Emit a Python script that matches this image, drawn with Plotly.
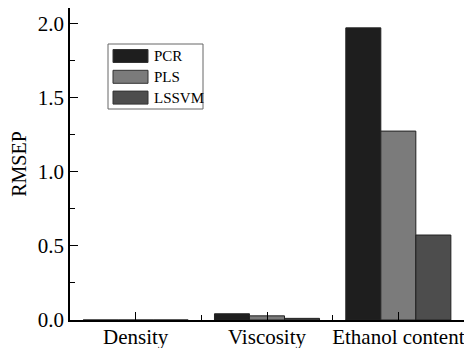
import plotly.graph_objects as go

categories = ["Density", "Viscosity", "Ethanol content"]
series_names = ["PCR", "PLS", "LSSVM"]
pcr = [0.0, 0.042, 1.97]
pls = [0.0, 0.028, 1.274]
lssvm = [0.0, 0.011, 0.573]
colors = ["#1e1e1e", "#7b7b7b", "#4d4d4d"]
y_ticks = [0.0, 0.5, 1.0, 1.5, 2.0]

x_pos = list(range(len(categories)))
FONT = "Liberation Serif"

# figure geometry (figure div sits 8px in from the page corner)
W, H = 464, 340
ML, MR, MT, MB = 62, 8, 0, 28
PW, PH = W - ML - MR, H - MT - MB


def px(x):  # figure-pixel x -> paper
    return (x - ML) / PW


def py(y):  # figure-pixel y -> paper
    return (MT + PH - y) / PH


fig = go.Figure()
for name, vals, col in zip(series_names, [pcr, pls, lssvm], colors):
    fig.add_trace(go.Bar(
        x=x_pos, y=vals, name=name, showlegend=False,
        marker=dict(color=col, line=dict(color="#222222", width=1)),
    ))

# legend drawn as a framed box, swatches and labels (positions in figure px)
shapes = [dict(type="rect", xref="paper", yref="paper",
               x0=px(100), x1=px(195), y0=py(101), y1=py(36),
               line=dict(color="#666666", width=1), fillcolor="white",
               layer="above")]
annotations = []
for i, (name, col) in enumerate(zip(series_names, colors)):
    top = 41.5 + i * 20.8
    shapes.append(dict(type="rect", xref="paper", yref="paper",
                       x0=px(105), x1=px(140), y0=py(top + 13), y1=py(top),
                       line=dict(color="#333333", width=1), fillcolor=col,
                       layer="above"))
    annotations.append(dict(xref="paper", yref="paper", x=px(144),
                            y=py(top + 6.5), text=name, showarrow=False,
                            xanchor="left", yanchor="middle",
                            font=dict(family=FONT, size=15, color="black")))

fig.update_layout(
    width=W, height=H,
    margin=dict(l=ML, r=MR, t=MT, b=MB, autoexpand=False),
    paper_bgcolor="white", plot_bgcolor="white",
    barmode="group", bargap=0.2, bargroupgap=0,
    font=dict(family=FONT, size=20, color="black"),
    showlegend=False,
    shapes=shapes, annotations=annotations,
)

fig.update_xaxes(
    range=[-0.5, 2.5], automargin=False,
    tickmode="array", tickvals=x_pos, ticktext=categories,
    ticks="inside", ticklen=8, tickwidth=1, tickcolor="black",
    minor=dict(tickmode="linear", tick0=0.5, dtick=1, ticks="inside",
               ticklen=5, tickwidth=1, tickcolor="black"),
    showline=True, linecolor="black", linewidth=1.5, mirror=True,
    showgrid=False, zeroline=False,
    tickfont=dict(family=FONT, size=21),
    ticklabelstandoff=-3,
)
fig.update_yaxes(
    range=[0, 2.104], automargin=False,
    tickmode="array", tickvals=y_ticks,
    ticktext=[f"{v:.1f}" for v in y_ticks],
    ticks="inside", ticklen=8, tickwidth=1, tickcolor="black",
    minor=dict(tickmode="linear", tick0=0.25, dtick=0.5, ticks="inside",
               ticklen=5, tickwidth=1, tickcolor="black"),
    showline=True, linecolor="black", linewidth=1.5, mirror=True,
    showgrid=False, zeroline=False,
    title=dict(text="RMSEP", font=dict(family=FONT, size=20), standoff=8),
    tickfont=dict(family=FONT, size=21),
)

fig.write_html("out.html")
